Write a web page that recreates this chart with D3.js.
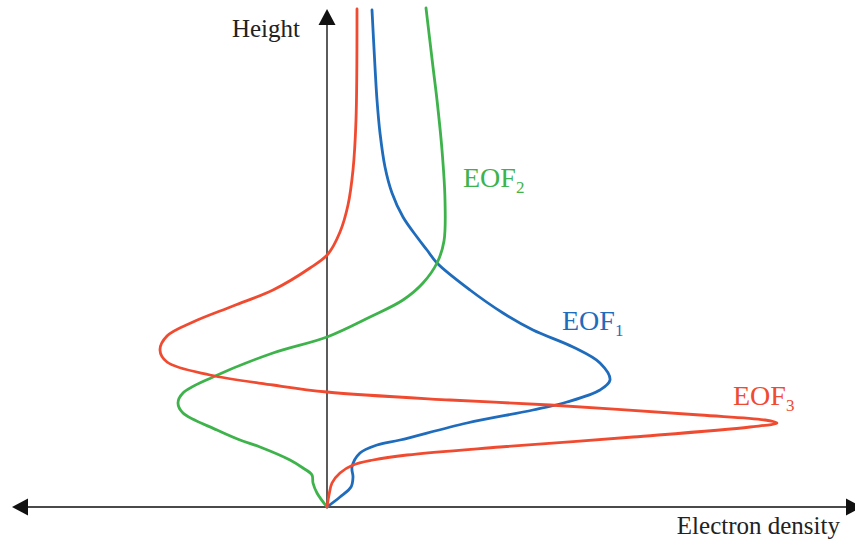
<!DOCTYPE html>
<html>
<head>
<meta charset="utf-8">
<script src="https://cdn.jsdelivr.net/npm/d3@7"></script>
<style>
  body { margin: 0; background: #fff; }
  svg { display: block; }
  .lbl { font-family: "Liberation Serif", "Times New Roman", serif; }
</style>
</head>
<body>
<div id="chart"></div>
<script>
// profiles: [electron density (arb. units), height (arb. units)]
var eof1 = [
    [0.45, 4.97], [0.48, 4.40], [0.50, 4.07], [0.53, 3.74], [0.58, 3.40],
    [0.65, 3.14], [0.76, 2.90], [0.90, 2.70], [1.00, 2.57], [1.10, 2.44],
    [1.43, 2.17], [1.76, 1.94], [2.06, 1.77],
    [2.46, 1.60], [2.73, 1.44], [2.83, 1.27], [2.73, 1.17], [2.40, 1.05],
    [2.06, 0.97], [1.40, 0.84], [0.73, 0.67], [0.50, 0.62], [0.33, 0.54],
    [0.25, 0.40], [0.26, 0.30], [0.24, 0.20], [0.13, 0.10], [0.00, 0.00]
]
var eof2 = [
    [0.99, 4.99], [1.06, 4.40], [1.10, 4.07], [1.15, 3.57], [1.18, 3.07],
    [1.17, 2.66], [1.10, 2.44], [0.96, 2.24], [0.76, 2.07], [0.43, 1.90],
    [0.00, 1.70], [-0.54, 1.54], [-1.14, 1.30], [-1.44, 1.14], [-1.49, 1.04],
    [-1.44, 0.94], [-1.10, 0.77], [-0.87, 0.67], [-0.67, 0.60], [-0.37, 0.47],
    [-0.24, 0.39], [-0.15, 0.32], [-0.14, 0.24], [-0.10, 0.14], [0.00, 0.00]
]
var eof3 = [
    [0.30, 4.98], [0.29, 3.87], [0.26, 3.37], [0.21, 3.02], [0.13, 2.75],
    [0.01, 2.53], [-0.17, 2.39], [-0.54, 2.17], [-0.94, 2.01], [-1.34, 1.85],
    [-1.60, 1.71], [-1.67, 1.57], [-1.60, 1.45], [-1.17, 1.32], [-0.54, 1.22],
    [0.00, 1.15], [1.23, 1.07], [2.23, 1.02], [3.73, 0.92], [4.38, 0.87],
    [4.50, 0.84], [4.23, 0.80], [3.06, 0.70], [1.73, 0.60], [0.80, 0.52],
    [0.46, 0.47], [0.26, 0.42], [0.13, 0.34], [0.05, 0.24], [0.02, 0.12],
    [0.00, 0.00]
]
var names = ["EOF1", "EOF2", "EOF3"]
var colors = ["#1f6cbd", "#3eb34b", "#f04b30"]
// label anchor points in data units
var labelPos = [[2.35, 1.77], [1.36, 3.20], [4.06, 1.02]]

var width = 855, height = 544

var svg = d3.select("#chart").append("svg")
    .attr("width", width)
    .attr("height", height)

var x = d3.scaleLinear().domain([-3.15, 5.35]).range([12, 862])
var y = d3.scaleLinear().domain([0, 4.98]).range([507, 9])

//axes
var axisColor = "#4a4a4a"
svg.append("line")
    .attr("x1", x(-3.15) + 10).attr("x2", x(5.35) - 10)
    .attr("y1", y(0)).attr("y2", y(0))
    .attr("stroke", axisColor).attr("stroke-width", 1.8)
svg.append("line")
    .attr("x1", x(0)).attr("x2", x(0))
    .attr("y1", y(0)).attr("y2", y(4.98) + 10)
    .attr("stroke", axisColor).attr("stroke-width", 1.8)

// arrow heads
var ox = x(0), oy = y(0)
var ty = y(4.98), lx = x(-3.15), rx = x(5.35)
svg.append("path")
    .attr("d", "M" + ox + "," + ty + "L" + (ox - 8.5) + "," + (ty + 16) + "L" + (ox + 8.5) + "," + (ty + 16) + "Z")
    .attr("fill", "#111")
svg.append("path")
    .attr("d", "M" + lx + "," + oy + "L" + (lx + 16) + "," + (oy - 8.5) + "L" + (lx + 16) + "," + (oy + 8.5) + "Z")
    .attr("fill", "#111")
svg.append("path")
    .attr("d", "M" + rx + "," + oy + "L" + (rx - 16) + "," + (oy - 8.5) + "L" + (rx - 16) + "," + (oy + 8.5) + "Z")
    .attr("fill", "#111")

svg.append("text")
    .attr("class", "lbl")
    .attr("x", 300).attr("y", 37)
    .attr("text-anchor", "end")
    .attr("font-size", "25px")
    .attr("fill", "#222")
    .text("Height")

svg.append("text")
    .attr("class", "lbl")
    .attr("x", 840).attr("y", 534)
    .attr("text-anchor", "end")
    .attr("font-size", "25px")
    .attr("fill", "#222")
    .text("Electron density")

// profiles
var line = d3.line()
    .x(function (d) { return x(d[0]) })
    .y(function (d) { return y(d[1]) })
    .curve(d3.curveCatmullRom.alpha(0.5))

var profiles = [eof1, eof2, eof3]
svg.selectAll(".profile")
    .data(profiles)
    .enter()
    .append("path")
    .attr("class", "profile")
    .attr("d", line)
    .attr("fill", "none")
    .attr("stroke", function (d, i) { return colors[i] })
    .attr("stroke-width", 2.8)
    .attr("stroke-linejoin", "round")
    .attr("stroke-linecap", "round")

// EOF labels with subscripts
names.forEach(function (n, i) {
    var t = svg.append("text")
        .attr("class", "lbl")
        .attr("x", x(labelPos[i][0]))
        .attr("y", y(labelPos[i][1]))
        .attr("font-size", "28px")
        .attr("fill", colors[i])
    t.append("tspan").text(n.slice(0, 3))
    t.append("tspan")
        .attr("font-size", "17px")
        .attr("dy", 6)
        .text(n.slice(3))
})
</script>
</body>
</html>
